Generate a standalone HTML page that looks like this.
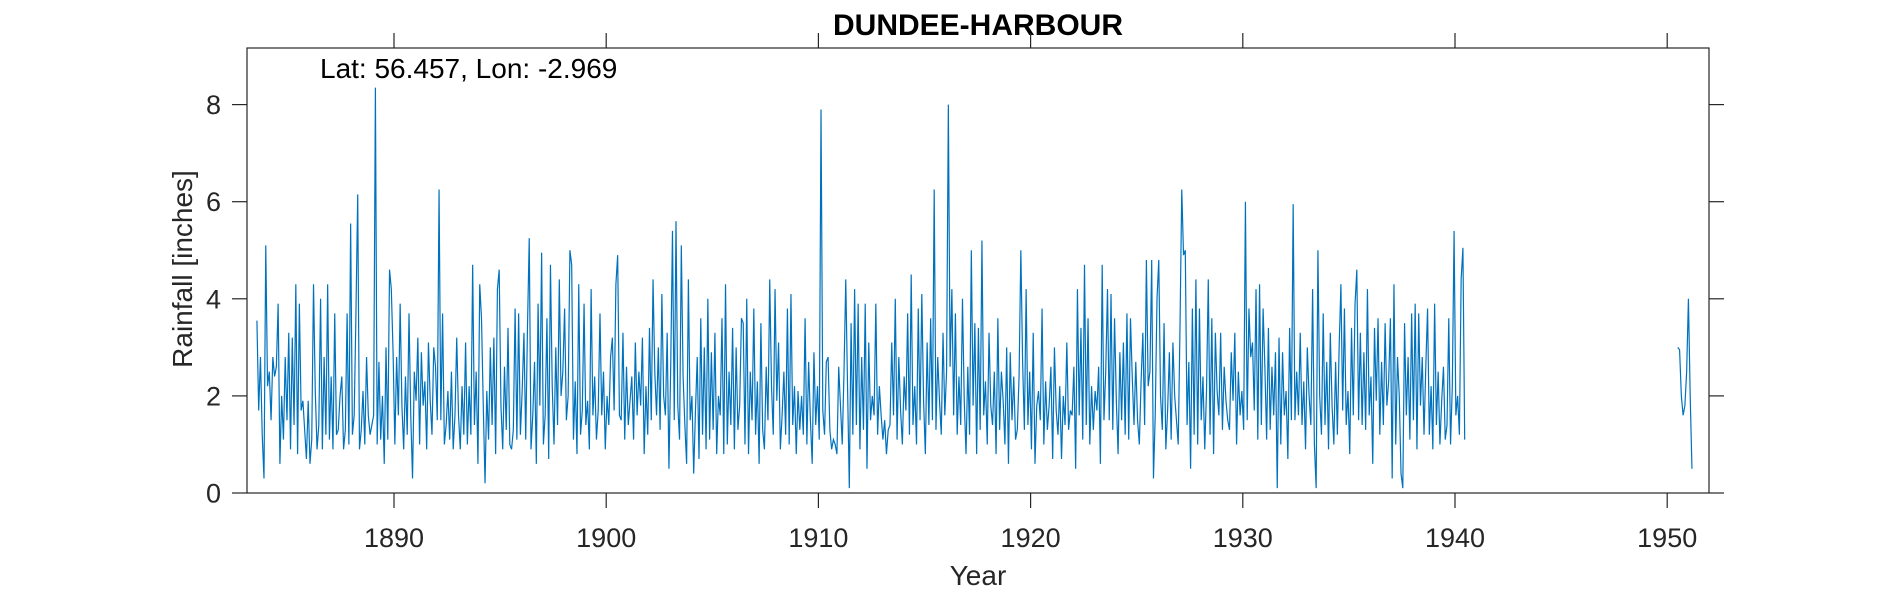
<!DOCTYPE html>
<html><head><meta charset="utf-8"><style>
body{margin:0;background:#fff;width:1890px;height:591px;overflow:hidden}
svg{display:block;font-family:"Liberation Sans",Arial,sans-serif}
</style></head><body>
<svg id="chart" width="1890" height="591" viewBox="0 0 1890 591">
<rect width="1890" height="591" fill="#fff"/>
<text x="978" y="35" text-anchor="middle" font-size="30" font-weight="bold" fill="#000">DUNDEE-HARBOUR</text>
<g id="axes"></g>
<path id="series1" fill="none" stroke="#0072bd" stroke-width="1.2"/>
<path id="series2" fill="none" stroke="#0072bd" stroke-width="1.2"/>
<text x="320" y="78" font-size="28" fill="#000">Lat: 56.457, Lon: -2.969</text>
<text x="978" y="585" text-anchor="middle" font-size="28" fill="#262626">Year</text>
<text transform="translate(192,269) rotate(-90)" text-anchor="middle" font-size="28" fill="#262626">Rainfall [inches]</text>
</svg>
<script>
const startYear1 = 1883.54;
const rain1 = [
3.55,1.7,2.8,1.2,0.3,5.1,2.2,2.5,1.5,2.8,2.4,2.6,
3.9,0.6,2.0,1.1,2.8,1.5,3.3,0.9,3.2,1.4,4.3,0.8,
3.9,1.7,1.9,1.3,0.7,1.9,0.6,1.1,4.3,2.1,0.9,1.4,
4.0,0.9,2.8,1.2,4.3,1.1,2.4,0.9,3.7,1.2,1.3,2.0,
2.4,0.9,1.3,3.7,1.0,5.55,1.2,1.6,3.7,6.15,0.9,1.3,
2.1,1.0,2.8,1.6,1.2,1.4,1.6,8.35,1.0,2.7,1.1,2.0,
0.6,3.0,1.1,4.6,4.2,2.9,1.0,2.8,1.6,3.9,1.8,0.9,
2.4,1.2,3.7,1.6,0.3,2.5,1.9,3.2,1.0,2.9,1.8,2.3,
0.9,3.1,1.9,1.2,3.0,2.6,1.5,
6.25,1.5,3.7,1.0,1.4,2.1,1.1,2.5,0.9,1.6,3.2,1.6,
0.9,2.2,1.2,3.1,1.0,2.2,1.2,4.7,1.4,2.5,0.6,4.3,
3.6,1.8,0.2,2.1,1.1,3.0,1.4,3.2,0.8,4.2,4.6,1.8,
0.9,2.6,1.3,3.4,1.0,0.9,1.3,3.8,1.1,3.7,1.2,2.1,
3.3,1.1,3.4,5.25,0.9,1.6,2.7,0.6,3.9,1.8,4.95,1.0,
1.6,3.6,0.7,4.7,2.2,1.0,3.0,1.4,4.4,2.0,2.5,3.8,
1.5,2.0,5.0,4.7,1.1,2.3,0.8,4.3,1.2,1.7,3.9,1.4,
1.9,0.9,4.2,1.6,2.4,1.1,1.7,3.7,1.6,2.5,0.9,2.0,1.4,2.8,
3.2,1.7,4.3,4.9,1.6,1.5,3.3,1.1,2.6,1.4,1.9,2.4,
1.1,3.1,1.6,2.5,1.8,3.2,0.8,2.2,1.2,3.4,1.5,4.4,
2.5,1.6,3.0,1.3,4.1,2.0,1.6,3.3,0.5,2.6,5.4,1.5,
5.6,1.8,1.1,5.1,2.4,1.4,0.6,4.4,1.5,2.0,0.4,1.7,
2.8,0.7,3.6,1.2,3.0,0.9,4.0,1.1,2.9,1.3,3.3,0.8,
2.0,1.6,3.6,0.8,4.3,1.0,2.5,1.4,3.4,0.9,3.0,1.3,
1.8,3.6,3.5,1.0,4.0,0.8,2.5,1.5,3.8,1.2,2.3,0.6,
3.5,1.3,0.9,2.6,1.5,4.4,2.2,1.2,4.2,1.9,3.1,0.9,
1.6,2.5,1.2,3.8,1.0,4.1,1.4,2.2,0.8,2.1,1.3,2.0,
1.2,3.6,1.0,2.7,1.5,0.6,2.9,1.4,2.2,1.1,7.9,1.7,
1.2,2.7,2.8,1.3,0.9,1.1,1.0,0.8,2.6,1.8,1.0,2.5,
4.4,2.2,0.1,3.5,1.2,4.2,1.4,3.9,0.9,2.8,1.3,3.9,
0.5,3.1,1.5,2.0,1.6,3.9,1.2,2.2,1.6,1.1,1.5,0.8,1.3,
1.4,3.1,1.6,4.0,1.1,2.8,1.7,1.0,2.4,1.7,3.7,1.2,
4.5,1.4,2.2,1.0,3.8,1.5,4.1,1.9,0.8,3.1,1.4,3.6,
1.5,6.25,1.3,2.8,1.9,1.2,3.3,1.6,2.5,8.0,2.6,4.2,
1.6,3.7,1.2,2.4,1.4,4.0,1.9,0.8,2.6,1.2,5.0,1.8,
3.5,0.8,3.4,1.3,5.2,1.6,2.3,1.0,3.3,1.8,1.4,2.5,
0.8,3.6,1.3,2.5,1.9,1.0,3.0,0.6,2.9,1.5,2.4,1.1,
1.3,2.4,5.0,2.7,1.3,4.2,1.4,2.5,0.9,3.3,0.6,1.8,2.1,
1.5,3.8,1.0,2.3,1.3,1.8,2.6,0.7,3.0,1.7,1.2,2.2,
0.7,2.0,1.4,3.1,1.3,1.7,1.6,2.6,0.5,4.2,1.6,3.4,
1.1,4.7,1.4,3.6,1.0,2.2,1.3,2.1,1.7,2.6,0.6,4.7,
1.5,2.5,4.2,1.5,4.1,1.3,3.6,1.9,0.8,2.9,1.5,3.1,
1.2,3.7,1.1,3.6,2.4,1.4,2.7,1.5,1.0,2.3,3.3,1.4,
4.8,2.2,2.5,4.8,0.3,1.6,4.0,4.8,2.0,1.3,3.5,0.9,
1.7,2.9,1.1,3.1,2.0,1.5,1.0,3.4,6.25,4.9,5.0,1.4,
2.7,0.5,3.8,1.2,4.4,1.0,3.8,1.5,2.4,0.9,2.1,4.4,
1.2,3.6,0.8,3.3,2.1,1.6,3.3,1.3,2.6,1.9,1.5,1.3,
2.9,1.9,3.3,1.0,2.5,1.6,2.1,1.3,6.0,1.5,3.8,2.8,
3.1,1.7,4.2,1.1,4.3,1.4,3.8,2.6,1.1,3.4,1.3,2.6,
1.6,2.9,0.1,3.2,1.0,2.9,1.6,2.1,0.7,3.4,1.5,5.95,
1.5,2.5,1.6,3.3,1.4,2.3,0.9,3.0,2.0,1.4,4.2,1.0,
0.1,5.0,2.0,1.2,3.7,1.4,2.7,0.9,3.3,1.8,1.0,2.7,
1.2,3.0,4.3,1.7,3.8,1.4,2.1,0.8,3.4,1.6,3.9,4.6,
1.5,3.3,1.4,2.9,1.3,4.2,1.6,2.4,0.6,3.4,1.9,3.6,
1.2,2.7,1.4,3.5,1.8,2.3,3.6,0.3,4.3,1.0,2.8,2.0,
0.4,0.1,3.5,1.6,2.8,1.1,3.7,1.5,3.9,0.9,3.7,1.8,
2.8,1.2,2.6,3.8,1.2,2.2,0.9,3.9,1.4,2.5,1.0,1.9,
2.6,1.1,1.4,3.6,1.0,2.2,5.4,1.6,2.0,1.2,4.4,5.05,1.1];
const startYear2 = 1950.5;
const rain2 = [3.0,2.95,2.0,1.6,1.8,2.5,4.0,2.0,0.5];
const xTicks = [1890,1900,1910,1920,1930,1940,1950];
const yTicks = [0,2,4,6,8];

const L=247,R=1709,T=48,B=493,TK=15;
function xs(t){return 394+(t-1890)*21.22;}
function ys(v){return 493-v*48.55;}
const NS='http://www.w3.org/2000/svg';
const ax=document.getElementById('axes');
function mk(tag,attrs){const e=document.createElementNS(NS,tag);for(const k in attrs)e.setAttribute(k,attrs[k]);ax.appendChild(e);return e;}
const box=mk('rect',{x:L,y:T,width:R-L,height:B-T,fill:'none',stroke:'#262626','stroke-width':1.2});


xTicks.forEach(t=>{
  const x=xs(t);
  const tb=mk('line',{x1:x,x2:x,y1:B,y2:B+TK,stroke:'#262626','stroke-width':1.2});
  
  
  const tt=mk('line',{x1:x,x2:x,y1:T,y2:T-TK,stroke:'#262626','stroke-width':1.2});
  
  
  const lb=mk('text',{x:x,y:547,'text-anchor':'middle','font-size':27,fill:'#262626'});
  lb.textContent=t;
  
  
});
yTicks.forEach(v=>{
  const y=ys(v);
  const tl=mk('line',{x1:L,x2:L-TK,y1:y,y2:y,stroke:'#262626','stroke-width':1.2});
  
  
  const tr=mk('line',{x1:R,x2:R+TK,y1:y,y2:y,stroke:'#262626','stroke-width':1.2});
  
  
  const lb=mk('text',{x:221,y:y+9.5,'text-anchor':'end','font-size':27,fill:'#262626'});
  lb.textContent=v;
  
  
});
function pathFor(start,vals){return vals.map((v,i)=>(i?'L':'M')+xs(start+i/12).toFixed(2)+','+ys(v).toFixed(2)).join('');}
document.getElementById('series1').setAttribute('d',pathFor(startYear1,rain1));
document.getElementById('series2').setAttribute('d',pathFor(startYear2,rain2));
</script>
</body></html>
